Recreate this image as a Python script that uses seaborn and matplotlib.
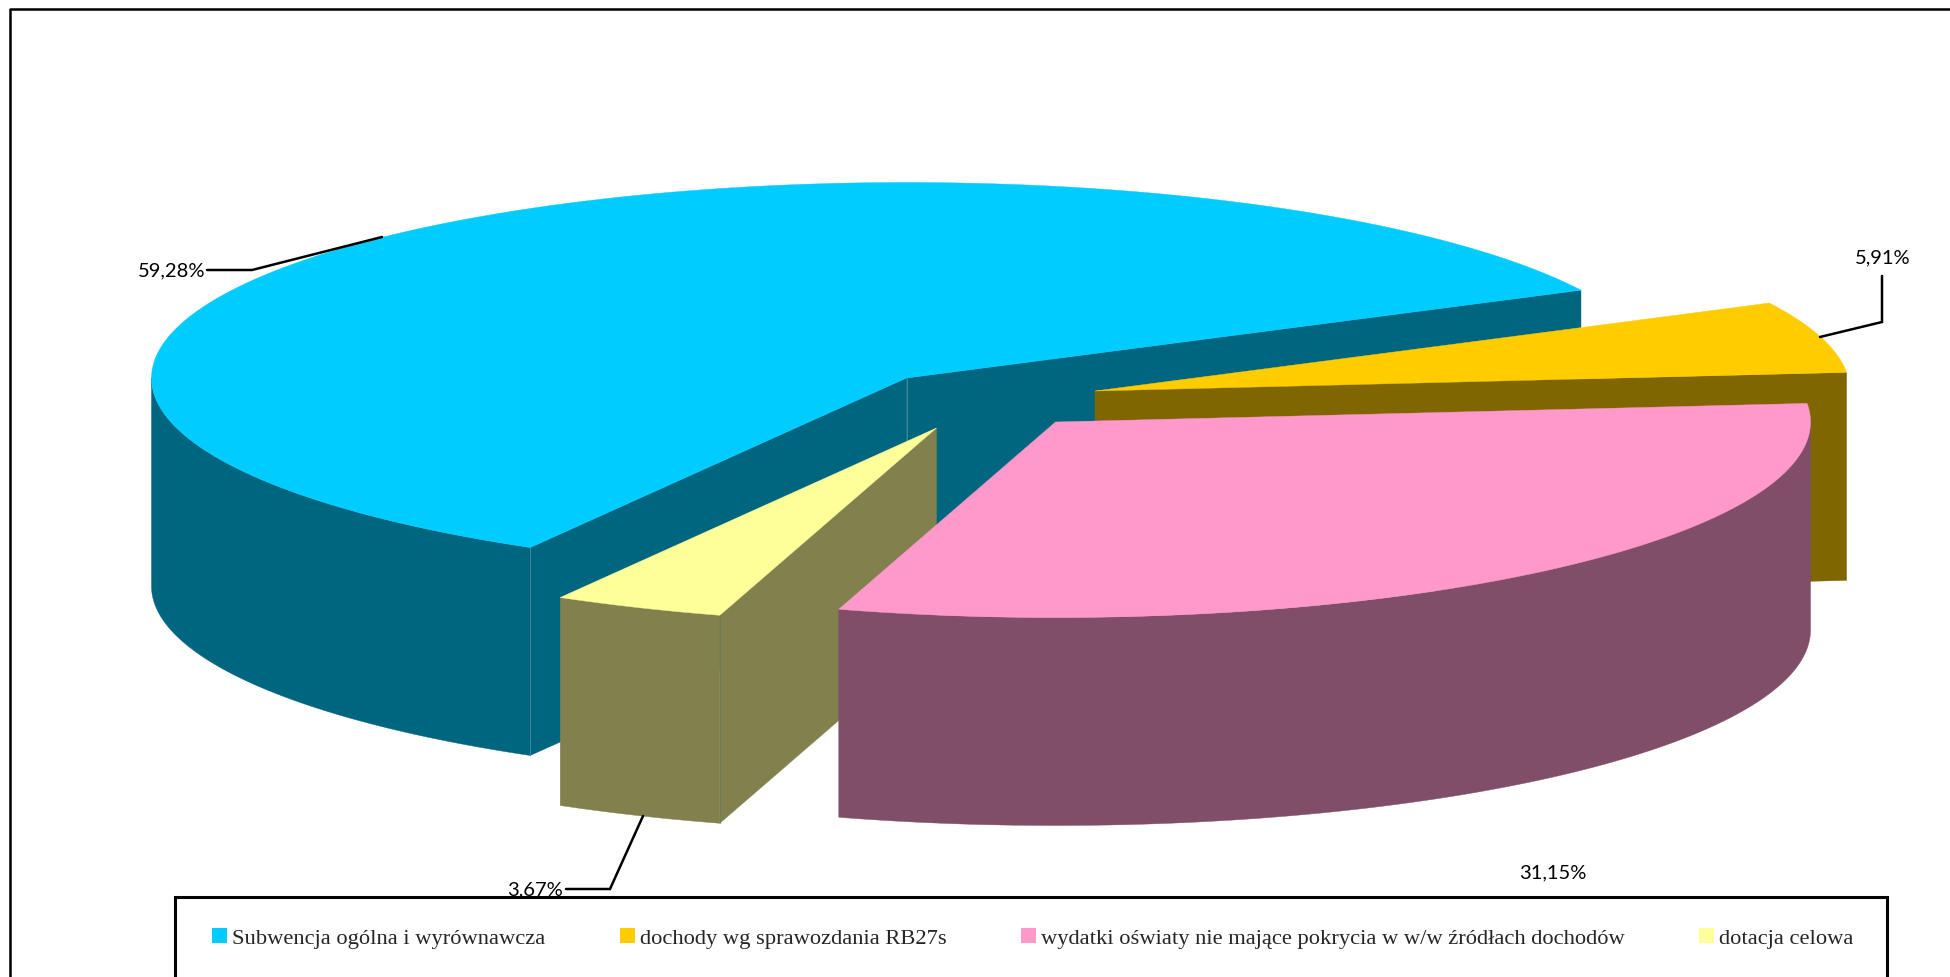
import numpy as np
import seaborn as sns
from matplotlib import pyplot as plt
from matplotlib.patches import Patch, Polygon, Rectangle

# shares in the order they run counter-clockwise round the pie
names = [
    "Subwencja ogólna i wyrównawcza",
    "dotacja celowa",
    "wydatki oświaty nie mające pokrycia w w/w źródłach dochodów",
    "dochody wg sprawozdania RB27s",
]
shares = [59.28, 3.67, 31.15, 5.91]
share_labels = ["59,28%", "3,67%", "31,15%", "5,91%"]
top_colors = ["#00CCFF", "#FFFF99", "#FF99CC", "#FFCC00"]
side_colors = ["#006680", "#82814D", "#804E69", "#806600"]

legend_order = [0, 3, 2, 1]

# pie geometry in pixels
CX, CY = 906.5, 379.0
RX, RY = 755.0, 195.5
DEPTH = 208.0
START_ANGLE = 26.7
offsets = [(0, 0), (30, 50), (149, 44), (188.5, 13)]
draw_order = [0, 3, 1, 2]


def rim(cx, cy, a0, a1):
    t = np.radians(np.linspace(a0, a1, 200))
    return np.column_stack([cx + RX * np.cos(t), cy - RY * np.sin(t)])


def draw_cut_wall(ax, cx, cy, angle, color):
    edge = rim(cx, cy, angle, angle)[0]
    pts = [(cx, cy), edge, edge + (0, DEPTH), (cx, cy + DEPTH)]
    ax.add_patch(Polygon(pts, closed=True, fc=color, ec=color, lw=0.3, zorder=1))


def draw_slice(ax, idx, a0, a1):
    cx = CX + offsets[idx][0]
    cy = CY + offsets[idx][1]

    # cut faces turned towards the viewer
    if np.sin(np.radians(a0 - 90)) < 0:
        draw_cut_wall(ax, cx, cy, a0, side_colors[idx])
    if np.sin(np.radians(a1 + 90)) < 0:
        draw_cut_wall(ax, cx, cy, a1, side_colors[idx])

    # front part of the outer wall
    lo, hi = max(a0, 180), min(a1, 360)
    if lo < hi:
        arc = rim(cx, cy, lo, hi)
        pts = np.vstack([arc, arc[::-1] + (0, DEPTH)])
        ax.add_patch(Polygon(pts, closed=True, fc=side_colors[idx], ec=side_colors[idx], lw=0.3, zorder=1))

    # thin seams on the wall corners
    seam = "#4d8a9c" if idx == 0 else "#6f7a5a"
    if idx == 0:
        ax.plot([cx, cx], [cy, cy + DEPTH], color=seam, lw=0.6, zorder=1)
    if idx in (0, 1):
        corner = rim(cx, cy, a1, a1)[0]
        ax.plot([corner[0]] * 2, [corner[1], corner[1] + DEPTH], color=seam, lw=0.6, zorder=1)

    top = np.vstack([[(cx, cy)], rim(cx, cy, a0, a1)])
    ax.add_patch(Polygon(top, closed=True, fc=top_colors[idx], ec=top_colors[idx], lw=0.3, zorder=1))


sns.set_theme(style="white")
plt.rcParams["font.family"] = ["Lato", "DejaVu Sans"]

fig = plt.figure(figsize=(19.5, 9.78), dpi=100)
ax = fig.add_axes([0, 0, 1, 1])
ax.set_xlim(0, 1950)
ax.set_ylim(978, 0)
ax.axis("off")

# outer chart frame, right and bottom edges are cropped off
ax.plot([10, 10, 1950], [978, 10, 10], color="black", lw=1.8, zorder=2)

angles = START_ANGLE + np.cumsum([0] + shares) * 3.6
for idx in draw_order:
    draw_slice(ax, idx, angles[idx], angles[idx + 1])

# leader lines
leaders = [
    ([207, 252, 382], [271, 271, 238]),
    ([566, 610, 643], [890, 890, 817]),
    ([1882, 1882, 1820], [277, 323, 338]),
]
for xs, ys in leaders:
    ax.plot(xs, ys, color="black", lw=1.8, solid_joinstyle="miter", zorder=2)

label_pos = [(171.5, 271), (535.5, 890), (1553, 873), (1883, 258)]
for lab, (x, y) in zip(share_labels, label_pos):
    ax.text(x, y, lab, ha="center", va="center", fontsize=14.5, color="black", zorder=3)

# legend box sits on top of the 3,67% label
ax.add_patch(Rectangle((175, 898), 1712, 100, fc="white", ec="black", lw=2.2, zorder=5))

handles = [Patch(fc=top_colors[i], ec="none", label=names[i]) for i in legend_order]
leg = ax.legend(
    handles=handles,
    ncols=4,
    frameon=False,
    loc="center left",
    bbox_to_anchor=(212, 939),
    bbox_transform=ax.transData,
    borderaxespad=0,
    borderpad=0,
    prop={"family": "Liberation Serif", "size": 16.2},
    handlelength=0.67,
    handleheight=0.67,
    handletextpad=0.22,
    columnspacing=3.3,
)
leg.set_zorder(6)

fig.savefig("out.png", dpi=100)
